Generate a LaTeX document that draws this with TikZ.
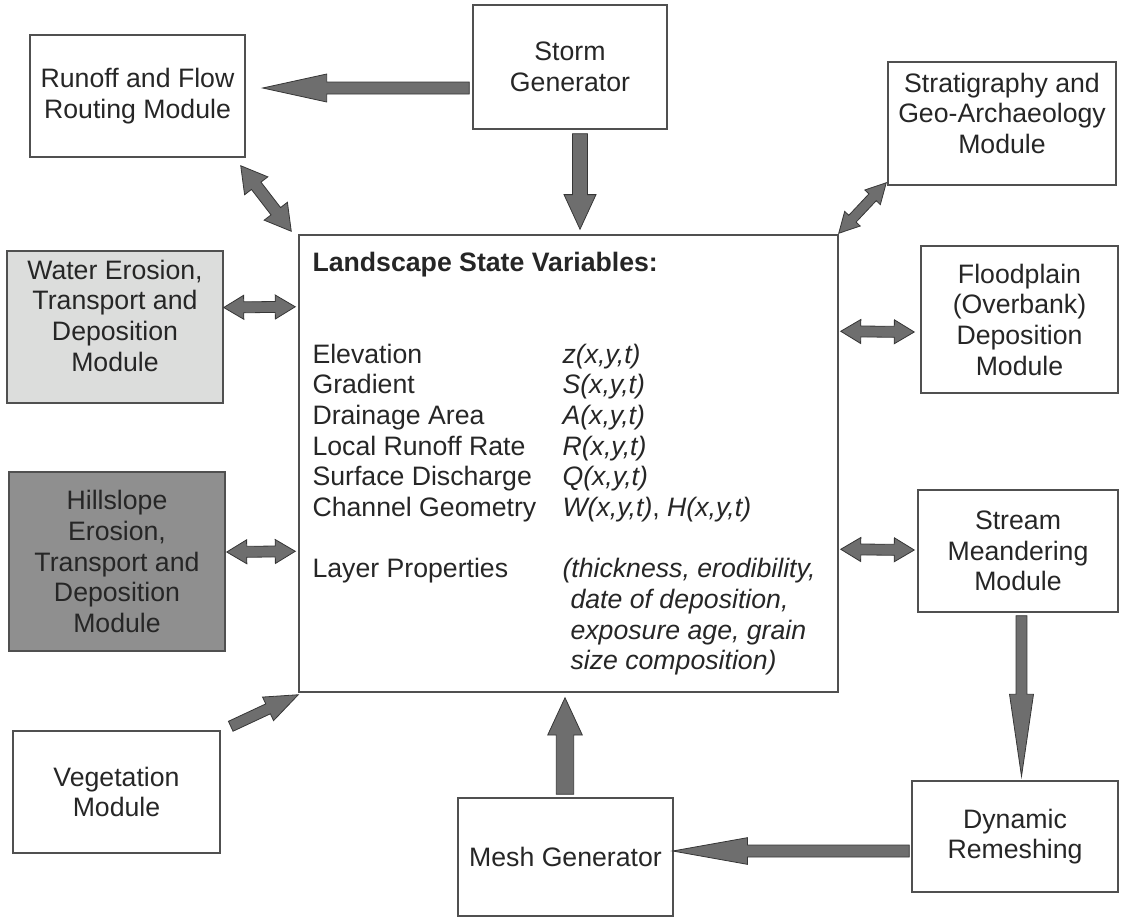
\documentclass[tikz,border=0pt]{standalone}
\usepackage{fontspec}
\setmainfont{Liberation Sans}
\usepackage{array}
\usetikzlibrary{calc,positioning}
\definecolor{boxline}{HTML}{505050}
\definecolor{arrowfill}{HTML}{6E6E6E}
\definecolor{arrowline}{HTML}{363636}
\definecolor{waterfill}{HTML}{DCDDDC}
\definecolor{hillfill}{HTML}{8F8F8F}
\definecolor{textcol}{HTML}{262626}
\tikzset{>=latex,
  module/.style={draw=boxline,line width=1.1pt,align=center,inner sep=0pt,text=textcol,
    font=\fontsize{20}{23}\selectfont},
  boxsize/.style 2 args={minimum width=#1*0.75pt,minimum height=#2*0.75pt},
  barrow/.style={fill=arrowfill,draw=arrowline,line width=0.6pt,line join=miter}}
% text lifted inside its box
\newcommand{\lifted}[2]{\raisebox{#1}[\height][\depth]{\begin{tabular}{@{}c@{}}#2\end{tabular}}}
% block arrow: from, to, body half width, head half width, head length
\newcommand{\blockarrow}[5]{%
  \coordinate (bah) at ($(#2)!#5!(#1)$);
  \draw[barrow] ($(#1)!#3!90:(#2)$) -- ($(bah)!#3!90:(#2)$) -- ($(bah)!#4!90:(#2)$) -- (#2)
    -- ($(bah)!#4!-90:(#2)$) -- ($(bah)!#3!-90:(#2)$) -- ($(#1)!#3!-90:(#2)$) -- cycle;}
\newcommand{\twoblockarrow}[5]{%
  \coordinate (bah1) at ($(#1)!#5!(#2)$);
  \coordinate (bah2) at ($(#2)!#5!(#1)$);
  \draw[barrow] (#1) -- ($(bah1)!#4!90:(#2)$) -- ($(bah1)!#3!90:(#2)$) -- ($(bah2)!#3!90:(#2)$)
    -- ($(bah2)!#4!90:(#2)$) -- (#2) -- ($(bah2)!#4!-90:(#2)$) -- ($(bah2)!#3!-90:(#2)$)
    -- ($(bah1)!#3!-90:(#2)$) -- ($(bah1)!#4!-90:(#2)$) -- cycle;}

\begin{document}
\begin{tikzpicture}[x=0.75pt,y=-0.75pt]
\useasboundingbox (0,0) rectangle (1127,921);

\node[module,boxsize={194}{124}] (storm) at (570,67) {Storm\\Generator};
\node[module,boxsize={215}{122}] (runoff) at (137.5,96) {Runoff and Flow\\Routing Module};
\node[module,boxsize={228}{123}] (strat) at (1002,123.5) {\lifted{5pt}{Stratigraphy and\\Geo-Archaeology\\Module}};
\node[module,boxsize={539}{457}] (state) at (568.5,463.5) {};
\node[module,boxsize={216}{152},fill=waterfill] (water) at (115,327) {\lifted{6pt}{Water Erosion,\\Transport and\\Deposition\\Module}};
\node[module,boxsize={197}{147}] (flood) at (1019.5,319.5) {Floodplain\\(Overbank)\\Deposition\\Module};
\node[module,boxsize={216}{179},fill=hillfill] (hill) at (117,561.5) {Hillslope\\Erosion,\\Transport and\\Deposition\\Module};
\node[module,boxsize={200}{122}] (stream) at (1018,551) {Stream\\Meandering\\Module};
\node[module,boxsize={207}{122}] (veg) at (116.5,792) {Vegetation\\Module};
\node[module,boxsize={215}{118}] (mesh) at (565.5,857) {Mesh Generator};
\node[module,boxsize={206}{111}] (remesh) at (1015,836.5) {Dynamic\\Remeshing};

% state variables
\node[anchor=north west,inner sep=0pt,text=textcol,font=\fontsize{20}{23}\selectfont] (vars)
  at ($(state.north west)+(14,15)$) {%
  \begin{tabular}{@{}p{187.5pt}@{}>{\itshape}l@{}}
  \multicolumn{2}{@{}l@{}}{\bfseries Landscape State Variables:}\\
  &\\
  &\\
  Elevation & z(x,y,t)\\
  Gradient & S(x,y,t)\\
  Drainage Area & A(x,y,t)\\
  Local Runoff Rate & R(x,y,t)\\
  Surface Discharge & Q(x,y,t)\\
  Channel Geometry & W(x,y,t){\upshape,} H(x,y,t)\\
  &\\
  Layer Properties & (thickness, erodibility,\\
  & \hspace{0.3em}date of deposition,\\
  & \hspace{0.3em}exposure age, grain\\
  & \hspace{0.3em}size composition)
  \end{tabular}};

% arrow ends
\coordinate (sr1) at ($(storm.west)+(-3,21)$);
\coordinate (sr2) at ($(runoff.east)+(17,-8)$);
\coordinate (sm1) at ($(storm.south)+(10,4)$);
\coordinate (sm2) at ($(state.north)+(11.5,-5)$);
\coordinate (rs1) at ($(runoff.south east)+(-5,8)$);
\coordinate (rs2) at ($(state.north west)+(-7,-3)$);
\coordinate (ts1) at ($(strat.south west)+(-1,-3)$);
\coordinate (ts2) at ($(state.north east)+(0,-1)$);
\coordinate (ws1) at ($(water.east)+(0,-19.5)$);
\coordinate (ws2) at ($(state.north west)+(-3,72.5)$);
\coordinate (hs1) at ($(hill.east)+(1,-9.5)$);
\coordinate (hs2) at ($(state.north west)+(-3,317)$);
\coordinate (fs1) at ($(state.north east)+(2,97)$);
\coordinate (fs2) at ($(flood.west)+(-6,12.5)$);
\coordinate (ms1) at ($(state.north east)+(2,315)$);
\coordinate (ms2) at ($(stream.west)+(-3,-1)$);
\coordinate (vs1) at ($(veg.north east)+(10,-4)$);
\coordinate (vs2) at ($(state.south west)+(0,2)$);
\coordinate (es1) at ($(mesh.north)+(-0.5,-3)$);
\coordinate (es2) at ($(state.south)+(-3.5,5)$);
\coordinate (sd1) at ($(stream.south)+(3.5,3)$);
\coordinate (sd2) at ($(remesh.north)+(6.5,-4)$);
\coordinate (dm1) at ($(remesh.west)+(-2,14.5)$);
\coordinate (dm2) at ($(mesh.east)+(-1,-6)$);

\blockarrow{sr1}{sr2}{4.5pt}{10.5pt}{48pt}
\blockarrow{sm1}{sm2}{5.6pt}{12pt}{26pt}
\twoblockarrow{rs1}{rs2}{4.5pt}{11pt}{19pt}
\twoblockarrow{ts1}{ts2}{3.75pt}{8pt}{15pt}
\twoblockarrow{ws1}{ws2}{4.1pt}{9pt}{15pt}
\twoblockarrow{hs1}{hs2}{4.1pt}{9pt}{15pt}
\twoblockarrow{fs1}{fs2}{4.1pt}{9pt}{15pt}
\twoblockarrow{ms1}{ms2}{4.1pt}{9pt}{15pt}
\blockarrow{vs1}{vs2}{4.1pt}{9.75pt}{25pt}
\blockarrow{es1}{es2}{6.5pt}{13pt}{28pt}
\blockarrow{sd1}{sd2}{4.1pt}{9pt}{61.5pt}
\blockarrow{dm1}{dm2}{4.5pt}{10pt}{56pt}
\end{tikzpicture}
\end{document}
